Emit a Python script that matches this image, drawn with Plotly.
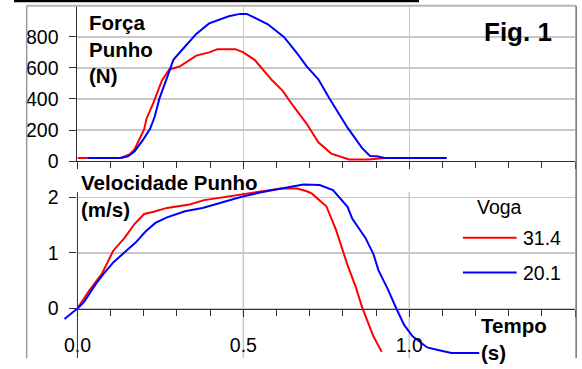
import plotly.graph_objects as go

# ---------------- data ----------------
series_names = ["31.4", "20.1"]
series_colors = ["#ff0000", "#0000ff"]
legend_title = "Voga"

# Força Punho (N) vs Tempo (s)
t_force_red = [0.0, 0.13, 0.157, 0.172, 0.186, 0.201, 0.208, 0.230, 0.255, 0.277, 0.309,
               0.358, 0.397, 0.422, 0.476, 0.500, 0.534, 0.588, 0.618, 0.652, 0.691,
               0.726, 0.765, 0.819, 0.877, 0.926, 1.0]
force_red = [20, 20, 42, 75, 137, 204, 271, 381, 521, 590, 610,
             679, 700, 721, 721, 700, 652, 517, 454, 350, 240,
             121, 48, 10, 10, 20, 20]

t_force_blue = [0.032, 0.13, 0.152, 0.172, 0.196, 0.219, 0.233, 0.247, 0.270, 0.289,
                0.319, 0.358, 0.397, 0.456, 0.490, 0.510, 0.574, 0.623, 0.662, 0.691,
                0.726, 0.760, 0.814, 0.858, 0.882, 0.902, 0.926, 1.113]
force_blue = [20, 20, 30, 62, 131, 208, 287, 402, 537, 652,
              725, 819, 887, 933, 948, 948, 881, 798, 694, 610,
              527, 402, 215, 83, 33, 31, 20, 20]

# Velocidade Punho (m/s) vs Tempo (s)
t_vel_red = [0.0, 0.034, 0.074, 0.108, 0.142, 0.172, 0.201, 0.230, 0.270, 0.338, 0.382,
             0.446, 0.495, 0.554, 0.613, 0.662, 0.691, 0.706, 0.750, 0.779, 0.814,
             0.838, 0.858, 0.892, 0.917]
vel_red = [0.0, 0.31, 0.63, 1.04, 1.27, 1.52, 1.70, 1.74, 1.81, 1.87, 1.95,
           2.01, 2.06, 2.11, 2.16, 2.16, 2.11, 2.07, 1.84, 1.42, 0.78,
           0.40, 0.02, -0.50, -0.78]

t_vel_blue = [-0.039, 0.0, 0.020, 0.054, 0.078, 0.108, 0.142, 0.176, 0.206, 0.235, 0.270,
              0.324, 0.377, 0.436, 0.495, 0.554, 0.623, 0.681, 0.730, 0.770, 0.814,
              0.828, 0.868, 0.892, 0.907, 0.936, 0.961, 0.985, 1.010, 1.054, 1.083,
              1.127, 1.211]
vel_blue = [-0.19, 0.0, 0.12, 0.43, 0.62, 0.83, 1.01, 1.19, 1.39, 1.54, 1.64,
            1.75, 1.81, 1.91, 2.01, 2.09, 2.16, 2.23, 2.22, 2.13, 1.83,
            1.62, 1.27, 0.98, 0.69, 0.34, 0.0, -0.30, -0.50, -0.70, -0.74,
            -0.80, -0.80]

x_tickvals = [0.0, 0.5, 1.0, 1.5]
x_ticktext = ["0.0", "0.5", "1.0", ""]
x_gridvals = [0.5, 1.0]
force_tickvals = [0, 200, 400, 600, 800]
vel_tickvals = [0, 1, 2]

# ---------------- layout helpers ----------------
W, H = 582, 369
def px(x):
    return x / W
def py(y):
    return 1 - y / H

FONT = "Liberation Sans, Arial, sans-serif"
AX = "#303030"
GRID = "#c8c8c8"
red, blue = series_colors

fig = go.Figure()

# top panel
fig.add_trace(go.Scatter(x=t_force_red, y=force_red, mode="lines", name=series_names[0],
                         line=dict(color=red, width=2), xaxis="x", yaxis="y", showlegend=False))
fig.add_trace(go.Scatter(x=t_force_blue, y=force_blue, mode="lines", name=series_names[1],
                         line=dict(color=blue, width=2), xaxis="x", yaxis="y", showlegend=False))

# bottom panel
fig.add_trace(go.Scatter(x=t_vel_red, y=vel_red, mode="lines", name=series_names[0],
                         line=dict(color=red, width=2), xaxis="x2", yaxis="y2", showlegend=False))
vb_main = [(t, v) for t, v in zip(t_vel_blue, vel_blue) if t >= 0]
vb_tail = [(t, v) for t, v in zip(t_vel_blue, vel_blue) if t <= 0]
fig.add_trace(go.Scatter(x=[p[0] for p in vb_main], y=[p[1] for p in vb_main], mode="lines",
                         name=series_names[1], line=dict(color=blue, width=2),
                         xaxis="x2", yaxis="y2", showlegend=False))
fig.add_trace(go.Scatter(x=[p[0] for p in vb_tail], y=[p[1] for p in vb_tail], mode="lines",
                         name=series_names[1], line=dict(color=blue, width=2),
                         xaxis="x3", yaxis="y3", showlegend=False))

xdom = [px(65), px(575)]
minor = dict(dtick=0.1, tick0=0, ticks="outside", ticklen=6, tickcolor=AX, tickwidth=1, showgrid=False)
tickfont = dict(family=FONT, size=19.5, color="#000000")

vscale = 57.3
y2_lo = (318 - 369) / vscale
y2_hi = (318 - 172) / vscale
y2_axis_top = (318 - 198) / vscale

fig.update_layout(
    width=W, height=H,
    margin=dict(l=0, r=0, t=0, b=0),
    paper_bgcolor="white", plot_bgcolor="white",
    showlegend=False,
    hovermode=False,
    xaxis=dict(domain=xdom, range=[0, 1.5], anchor="y", tickmode="array", tickvals=x_tickvals,
               showticklabels=False, ticks="outside", ticklen=7, tickcolor=AX,
               showline=True, linecolor=AX, linewidth=1, showgrid=True, gridcolor=GRID,
               gridwidth=1.5, zeroline=False, minor=minor),
    yaxis=dict(domain=[py(166), py(6)], range=[0, 1000], anchor="x", tickmode="array",
               tickvals=force_tickvals, ticks="outside", ticklen=7, tickcolor=AX,
               showline=True, linecolor=AX, linewidth=1, showgrid=True, gridcolor=GRID,
               gridwidth=1.5, zeroline=False, tickfont=tickfont, ticklabelstandoff=7),
    xaxis2=dict(domain=xdom, range=[0, 1.5], anchor="free", position=py(318),
                tickmode="array", tickvals=x_tickvals, ticktext=x_ticktext,
                ticks="outside", ticklen=7, tickcolor=AX, showline=True, linecolor=AX,
                linewidth=1, showgrid=False, zeroline=False,
                minor=minor, tickfont=tickfont, ticklabelstandoff=12),
    yaxis2=dict(domain=[0, py(172)], range=[y2_lo, y2_hi], anchor="x2", tickmode="array",
                tickvals=vel_tickvals, ticks="outside", ticklen=7, tickcolor=AX,
                showline=False, showgrid=True, gridcolor=GRID,
                gridwidth=1.5, zeroline=False, tickfont=tickfont, ticklabelstandoff=7),
    xaxis3=dict(domain=[px(50), px(65)], range=[(50 - 65) / 340, 0], anchor="y3", visible=False),
    yaxis3=dict(domain=[0, py(172)], range=[y2_lo, y2_hi], anchor="x3", visible=False),
)

shapes = [
    dict(type="rect", xref="paper", yref="paper", x0=0, x1=px(415), y0=py(2.2), y1=1,
         fillcolor="black", line=dict(width=0)),
    dict(type="line", xref="paper", yref="paper", x0=px(13), x1=px(576), y0=py(6), y1=py(6),
         line=dict(color="#b4b4b4", width=2)),
    dict(type="line", xref="paper", yref="paper", x0=px(13), x1=px(13), y0=py(6), y1=0,
         line=dict(color="#9a9a9a", width=1.5)),
    dict(type="line", xref="paper", yref="paper", x0=px(576), x1=px(576), y0=py(6), y1=0,
         line=dict(color="#707070", width=1.5)),
]
# bottom-panel vertical gridlines and y axis line (stop at the top of the axis)
for gx in x_gridvals:
    shapes.append(dict(type="line", xref="x2", yref="y2", x0=gx, x1=gx, y0=y2_lo, y1=y2_axis_top,
                       line=dict(color=GRID, width=1.5), layer="below"))
shapes.append(dict(type="line", xref="x2 domain", yref="y2", x0=0, x1=0, y0=y2_lo, y1=y2_axis_top,
                   line=dict(color=AX, width=1)))
# manual legend
leg_y = [245, 281]
for name, col, yy in zip(series_names, series_colors, leg_y):
    shapes.append(dict(type="line", xref="paper", yref="paper", x0=px(460), x1=px(515),
                       y0=py(yy), y1=py(yy), line=dict(color=col, width=2)))
fig.update_layout(shapes=shapes)

bold = dict(family=FONT, size=20.5, color="#000000")
reg = dict(family=FONT, size=19.5, color="#000000")
ann = [
    dict(text="<b>Força<br>Punho<br>(N)</b>", x=px(75), y=py(51), xanchor="left", yanchor="middle",
         align="left", font=bold),
    dict(text="<b>Fig. 1</b>", x=px(516), y=py(33), xanchor="center", yanchor="middle",
         font=dict(family=FONT, size=26, color="#000000")),
    dict(text="<b>Velocidade Punho<br>(m/s)</b>", x=px(67), y=py(202), xanchor="left",
         yanchor="middle", align="left", font=bold),
    dict(text="<b>Tempo<br>(s)</b>", x=px(476), y=py(349), xanchor="left", yanchor="middle",
         align="left", font=bold),
    dict(text=legend_title, x=px(472), y=py(213), xanchor="left", yanchor="middle", font=reg),
]
for name, yy in zip(series_names, leg_y):
    ann.append(dict(text=name, x=px(519), y=py(yy), xanchor="left", yanchor="middle", font=reg))
for a in ann:
    a.update(xref="paper", yref="paper", showarrow=False)
fig.update_layout(annotations=ann)

post = ("document.documentElement.style.margin='0px';"
        "document.body.style.margin='0px';"
        "document.documentElement.style.overflow='hidden';"
        "document.body.style.overflow='hidden';")
fig.write_html("out.html", config={"displayModeBar": False, "staticPlot": True}, post_script=post)
